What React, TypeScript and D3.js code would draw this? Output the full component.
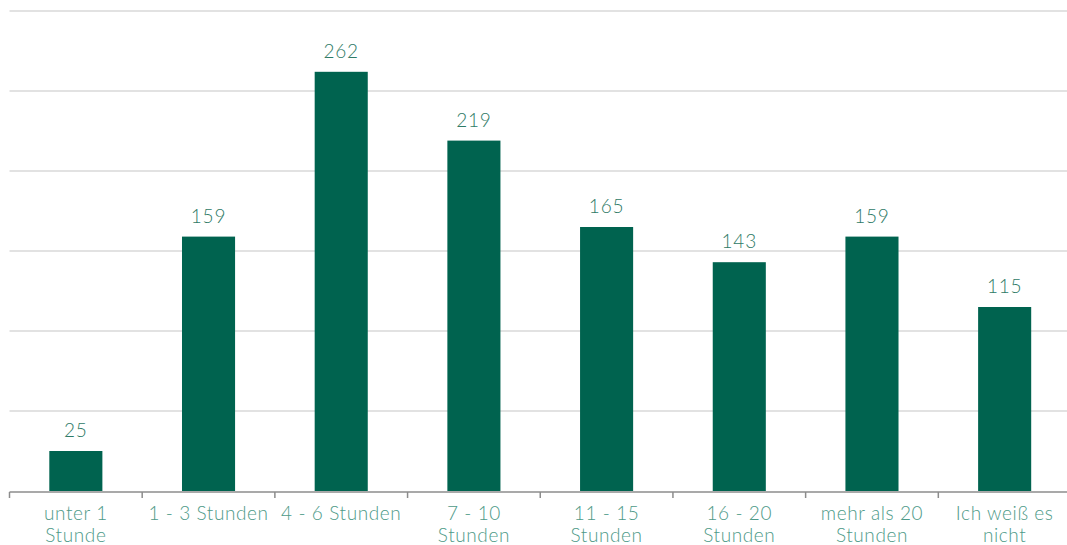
import React from "react";
import * as d3 from "d3";

const categories = [
  ["unter 1", "Stunde"],
  ["1 - 3 Stunden"],
  ["4 - 6 Stunden"],
  ["7 - 10", "Stunden"],
  ["11 - 15", "Stunden"],
  ["16 - 20", "Stunden"],
  ["mehr als 20", "Stunden"],
  ["Ich weiß es", "nicht"],
];
const values = [25, 159, 262, 219, 165, 143, 159, 115];
const gridTicks = [0, 50, 100, 150, 200, 250, 300];

const W = 1067;
const H = 545;
const FONT = "Lato, 'Open Sans', sans-serif";

export default function App() {
  const keys = categories.map((c) => c.join(" "));
  const x = d3
    .scaleBand<string>()
    .domain(keys)
    .range([9.5, 1071])
    .paddingInner(0.6)
    .paddingOuter(0.3);
  const y = d3.scaleLinear().domain([0, 300]).range([491, 11]);
  const step = x.step();
  const gap = (step - x.bandwidth()) / 2;
  const bounds = keys.map((k) => (x(k) as number) - gap);
  bounds.push((x(keys[keys.length - 1]) as number) + x.bandwidth() + gap);

  return (
    <svg
      width={W}
      height={H}
      style={{ position: "absolute", left: 0, top: 0, background: "#fff" }}
    >
      {gridTicks.slice(1).map((t) => (
        <line
          key={t}
          x1={9.5}
          x2={W}
          y1={y(t)}
          y2={y(t)}
          stroke="#d9d9d9"
          strokeWidth={1.6}
        />
      ))}
      {keys.map((k, i) => (
        <rect
          key={k}
          x={x(k)}
          y={y(values[i])}
          width={x.bandwidth()}
          height={y(0) - y(values[i])}
          fill="#00634f"
        />
      ))}
      <line x1={9.5} x2={W} y1={492} y2={492} stroke="#8c8c8c" strokeWidth={1.5} />
      {bounds.map((b, i) => (
        <line key={i} x1={b} x2={b} y1={492} y2={498} stroke="#8c8c8c" strokeWidth={1.5} />
      ))}
      {keys.map((k, i) => (
        <text
          key={"v" + k}
          x={(x(k) as number) + x.bandwidth() / 2}
          y={y(values[i]) - 14}
          textAnchor="middle"
          fontFamily={FONT}
          fontWeight={300}
          fontSize={19}
          letterSpacing={0.8}
          fill="#2e7a66"
        >
          {values[i]}
        </text>
      ))}
      {categories.map((c, i) => (
        <text
          key={"c" + i}
          x={(x(keys[i]) as number) + x.bandwidth() / 2}
          textAnchor="middle"
          fontFamily={FONT}
          fontWeight={300}
          fontSize={19}
          letterSpacing={0.6}
          fill="#4e9a88"
        >
          {c.map((line, j) => (
            <tspan key={j} x={(x(keys[i]) as number) + x.bandwidth() / 2} y={520 + j * 22}>
              {line}
            </tspan>
          ))}
        </text>
      ))}
    </svg>
  );
}
